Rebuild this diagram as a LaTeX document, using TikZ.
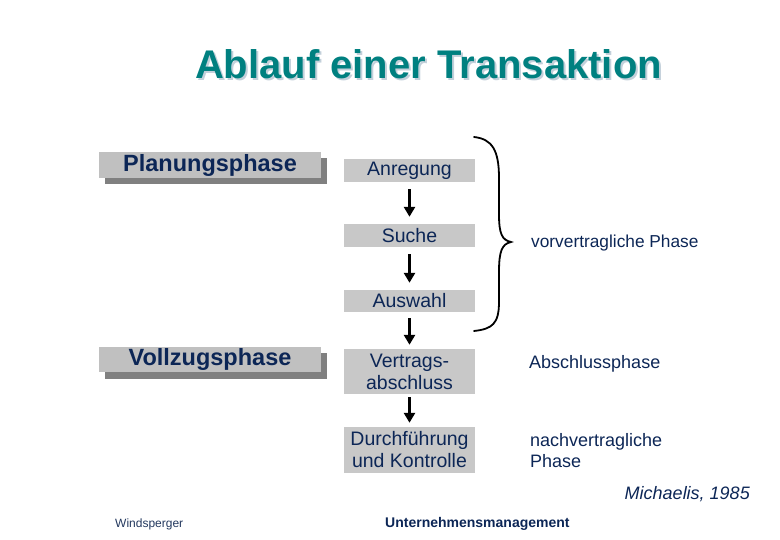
\documentclass[tikz,border=0pt]{standalone}
\usepackage{fontspec}
\setmainfont{Liberation Sans}
\usetikzlibrary{arrows.meta}
\definecolor{teal1}{RGB}{0,128,128}
\definecolor{tshadow}{RGB}{195,208,218}
\definecolor{navy}{RGB}{12,38,86}
\definecolor{boxgray}{RGB}{192,192,192}
\definecolor{shadowgray}{RGB}{128,128,128}
\definecolor{stepgray}{RGB}{200,200,200}
\tikzset{
  phasebox/.style={fill=boxgray, minimum width=222pt, minimum height=26pt, inner sep=0pt, text=navy, font=\fontsize{23.5}{25}\selectfont\bfseries},
  phaseshadow/.style={fill=shadowgray, minimum width=222pt, minimum height=26pt, inner sep=0pt},
  stepbox/.style={fill=stepgray, minimum width=131pt, inner sep=0pt, text=navy, align=center, font=\fontsize{19.5}{22}\selectfont},
  plabel/.style={anchor=west, text=navy, align=left, inner sep=0pt, font=\fontsize{18}{21}\selectfont},
  flow/.style={line width=2.6pt, -{Triangle[width=11pt,length=10pt]}, shorten <=7pt, shorten >=7pt}
}
\begin{document}
\begin{tikzpicture}[x=1pt,y=-1pt]
\useasboundingbox (0,0) rectangle (780,540);
% title with its shadow
\node[text=tshadow, font=\fontsize{40}{44}\selectfont\bfseries] (titleshadow) at (430.5,66.5) {Ablauf einer Transaktion};
\node[text=teal1, font=\fontsize{40}{44}\selectfont\bfseries] (title) at (428.5,64.5) {Ablauf einer Transaktion};
% phase boxes
\node[phaseshadow] (plansh) at (216,171) {};
\node[phasebox] (plan) at (210,165) {Planungsphase};
\node[phaseshadow] (vollsh) at (216,366) {};
\node[phasebox, minimum height=25pt] (voll) at (210,359.5) {Vollzugsphase};
% steps
\node[stepbox, minimum height=23pt] (anr) at (409.5,170.5) {Anregung};
\node[stepbox, minimum height=23pt] (such) at (409.5,235.5) {Suche};
\node[stepbox, minimum height=22pt] (ausw) at (409.5,301) {Auswahl};
\node[stepbox, minimum height=45pt] (vert) at (409.5,371.5) {Vertrags-\\abschluss};
\node[stepbox, minimum height=46pt] (durch) at (409.5,450) {Durchführung\\und Kontrolle};
% arrows
\draw[flow] (anr.south) -- (such.north);
\draw[flow] (such.south) -- (ausw.north);
\draw[flow, shorten <=6pt, shorten >=4pt] (ausw.south) -- (vert.north);
\draw[flow, shorten <=3pt, shorten >=4pt] (vert.south) -- (durch.north);
% brace
\draw[line width=1.8pt, line cap=round] (474,137) .. controls (492,139) and (499,150) .. (499,178) -- (499,214) .. controls (499,234) and (502,240) .. (511,242) .. controls (502,244) and (499,251) .. (499,272) -- (499,302) .. controls (499,324) and (492,329) .. (474,331);
% labels
\node[plabel, font=\fontsize{17.3}{21}\selectfont] (vorv) at (531,243) {vorvertragliche Phase};
\node[plabel] (absch) at (529,364) {Abschlussphase};
\node[plabel] (nachv) at (530,451) {nachvertragliche\\Phase};
\node[anchor=east, text=navy, inner sep=0pt, font=\fontsize{18}{20}\selectfont\itshape] (mich) at (750,494) {Michaelis, 1985};
\node[anchor=west, text=navy!80!gray, inner sep=0pt, font=\fontsize{12}{14}\selectfont] (winds) at (115,524) {Windsperger};
\node[anchor=west, text=navy, inner sep=0pt, font=\fontsize{14}{16}\selectfont\bfseries] (unter) at (385,524) {Unternehmensmanagement};
\end{tikzpicture}
\end{document}
